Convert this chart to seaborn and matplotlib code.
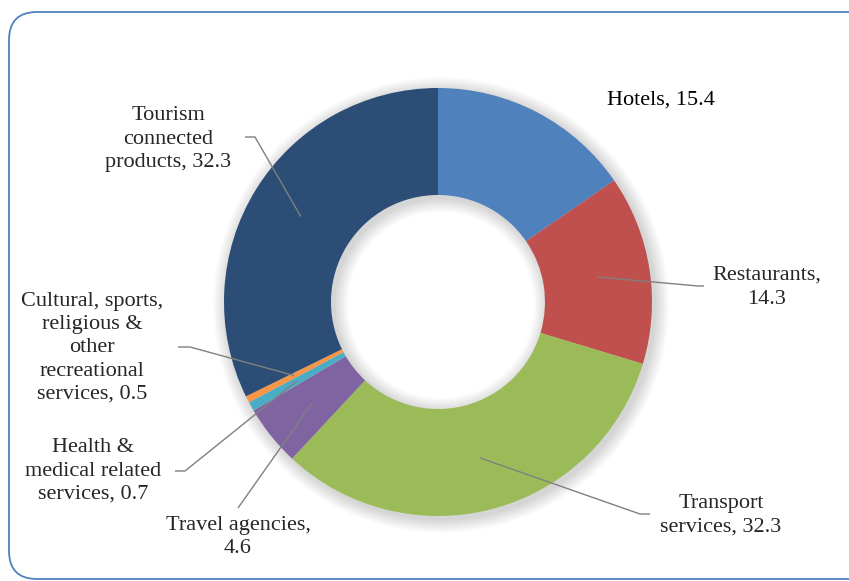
import numpy as np
import matplotlib
matplotlib.use("Agg")
import matplotlib.pyplot as plt
from matplotlib.patches import FancyBboxPatch, Wedge
import seaborn as sns

sns.set_theme(style="white")
plt.rcParams['font.family'] = ['Liberation Serif', 'DejaVu Serif']

# ---- data ----
label_texts = ["Hotels, 15.4", "Restaurants,\n14.3", "Transport\nservices, 32.3", "Travel agencies,\n4.6",
               "Health &\nmedical related\nservices, 0.7",
               "Cultural, sports,\nreligious &\nother\nrecreational\nservices, 0.5",
               "Tourism\nconnected\nproducts, 32.3"]
values = [15.4, 14.3, 32.3, 4.6, 0.7, 0.5, 32.3]
colors = ["#4F81BD", "#C0504D", "#9BBB59", "#8064A2", "#4BACC6", "#F79646", "#2C4D75"]

W, H = 849, 581
fig = plt.figure(figsize=(W / 100, H / 100), dpi=100)
ax = fig.add_axes([0, 0, 1, 1])

def P(px, py):
    return (px, H - py)

cx, cy = P(438, 302)
R = 214
w = 107

wedges, _ = ax.pie(values, colors=colors, startangle=90, counterclock=False,
                   center=(cx, cy), radius=R, frame=True,
                   wedgeprops=dict(width=w, linewidth=0, zorder=2))
ax.set_xlim(0, W)
ax.set_ylim(0, H)
ax.set_aspect('equal')
ax.axis('off')

# rounded frame
frame = FancyBboxPatch(P(9, 579), 900, 567, boxstyle="round,pad=0,rounding_size=28",
                       facecolor="white", edgecolor="#4F81BD", linewidth=1.3, zorder=0)
ax.add_patch(frame)

# soft shadow
for k in range(14):
    ax.add_patch(Wedge((cx + 3, cy - 3), R + 14 - k, 0, 360, width=w + 28 - 2 * k,
                       facecolor="black", alpha=0.012, linewidth=0, zorder=1))

def anchor(i, frac=0.755):
    wd = wedges[i]
    mid = np.deg2rad((wd.theta1 + wd.theta2) / 2)
    return (cx + frac * R * np.cos(mid), cy + frac * R * np.sin(mid))

fs = 16
lc = "#808080"
lw = 1.0

def leader(i, pts):
    a = anchor(i)
    xs = [a[0]] + [P(*p)[0] for p in pts]
    ys = [a[1]] + [P(*p)[1] for p in pts]
    ax.plot(xs, ys, color=lc, lw=lw, zorder=3, solid_capstyle='butt')

# Hotels
ax.text(*P(607, 100), label_texts[0], ha='left', va='center', fontsize=fs, color='black')
# Restaurants
leader(1, [(698, 286), (704, 286)])
ax.text(*P(767, 287), label_texts[1], ha='center', va='center', fontsize=fs, linespacing=1.4)
# Transport
leader(2, [(640, 514), (650, 514)])
ax.text(*P(721, 515), label_texts[2], ha='center', va='center', fontsize=fs, linespacing=1.35)
# Travel agencies
leader(3, [(238, 508)])
ax.text(*P(238, 537), label_texts[3], ha='center', va='center', fontsize=fs, linespacing=1.3)
# Health
leader(4, [(185, 471), (175, 471)])
ax.text(*P(93, 471), label_texts[4], ha='center', va='center', fontsize=fs, linespacing=1.3)
# Cultural
leader(5, [(190, 347), (178, 347)])
ax.text(*P(92, 348), label_texts[5], ha='center', va='center', fontsize=fs, linespacing=1.3)
# Tourism
leader(6, [(255, 137), (245, 137)])
ax.text(*P(168, 139), label_texts[6], ha='center', va='center', fontsize=fs, linespacing=1.3)

fig.savefig("out.png", dpi=100)
